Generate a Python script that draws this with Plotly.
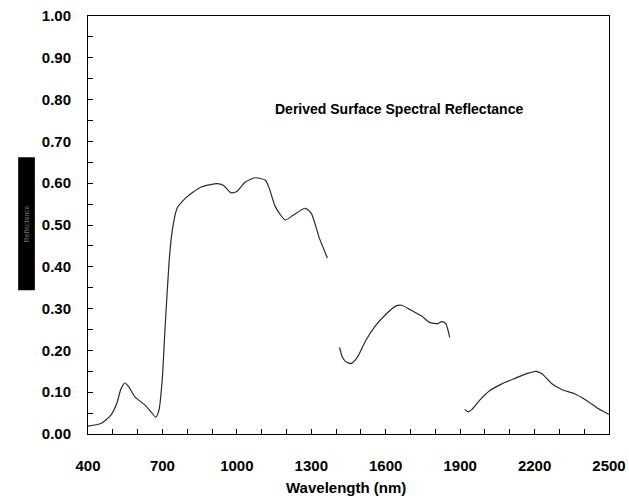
import plotly.graph_objects as go

# Visible / near-infrared segment
wl_vnir = [400, 452, 492, 516, 533, 549, 565, 589, 630, 654, 673, 686, 699, 710, 727, 739,
           759, 791, 824, 856, 921, 945, 977, 1001, 1034, 1074, 1115, 1131, 1155, 1195,
           1228, 1276, 1300, 1333, 1365]
refl_vnir = [0.019, 0.025, 0.045, 0.073, 0.108, 0.122, 0.112, 0.089, 0.069, 0.053, 0.040,
             0.057, 0.128, 0.247, 0.413, 0.484, 0.540, 0.563, 0.579, 0.591, 0.599, 0.595,
             0.577, 0.581, 0.603, 0.613, 0.607, 0.587, 0.544, 0.512, 0.524, 0.540, 0.528,
             0.468, 0.421]

# SWIR-1 segment (between the water absorption bands)
wl_swir1 = [1414, 1425, 1441, 1462, 1486, 1519, 1559, 1600, 1640, 1664, 1697, 1745, 1777,
            1810, 1826, 1842, 1858]
refl_swir1 = [0.207, 0.184, 0.172, 0.169, 0.184, 0.223, 0.259, 0.286, 0.306, 0.308, 0.298,
              0.282, 0.267, 0.264, 0.269, 0.264, 0.231]

# SWIR-2 segment
wl_swir2 = [1918, 1933, 1948, 1979, 2020, 2068, 2117, 2165, 2206, 2230, 2270, 2311, 2359,
            2408, 2456, 2500]
refl_swir2 = [0.059, 0.053, 0.059, 0.081, 0.104, 0.120, 0.132, 0.144, 0.150, 0.144, 0.120,
              0.106, 0.097, 0.081, 0.061, 0.047]

x_ticks = [400, 700, 1000, 1300, 1600, 1900, 2200, 2500]
y_ticks = [0.0, 0.1, 0.2, 0.3, 0.4, 0.5, 0.6, 0.7, 0.8, 0.9, 1.0]

chart_title = "Derived Surface Spectral Reflectance"
x_title = "Wavelength (nm)"
y_title = "Reflectance"

FONT = "Liberation Sans Narrow, Arial Narrow, Liberation Sans, sans-serif"
LINE = dict(color="#2a2a2a", width=1.2, shape="spline", smoothing=0.6)

fig = go.Figure()
for wl, rf in [(wl_vnir, refl_vnir), (wl_swir1, refl_swir1), (wl_swir2, refl_swir2)]:
    fig.add_trace(go.Scatter(x=wl, y=rf, mode="lines", line=LINE,
                             showlegend=False, hoverinfo="skip"))

axis_common = dict(
    showline=True, linecolor="black", linewidth=1, mirror=True,
    showgrid=False, zeroline=False, automargin=False,
    ticks="inside", ticklen=5, tickcolor="black", tickwidth=1,
    tickfont=dict(family=FONT, size=15, color="black", weight="bold"),
)

fig.update_xaxes(
    range=[400, 2500], tickvals=x_ticks, ticktext=[str(v) for v in x_ticks],
    minor=dict(dtick=100, tick0=400, ticks="inside", ticklen=5, tickcolor="black"),
    ticklabelstandoff=18,
    **axis_common,
)
fig.update_yaxes(
    range=[0, 1.0], tickvals=y_ticks, ticktext=[f"{v:.2f}" for v in y_ticks],
    minor=dict(dtick=0.05, tick0=0, ticks="inside", ticklen=5, tickcolor="black"),
    ticklabelstandoff=13,
    **axis_common,
)

# Axis title under the wavelength ticks
fig.add_annotation(xref="paper", yref="paper", x=0.495, y=-0.129,
                   xanchor="center", yanchor="middle",
                   text=x_title, showarrow=False,
                   font=dict(family=FONT, size=15, color="black", weight="bold"))

# Boxed axis label on the left
fig.add_shape(type="rect", xref="paper", yref="paper",
              x0=-0.134, x1=-0.102, y0=0.344, y1=0.662,
              fillcolor="black", line=dict(width=0))
fig.add_annotation(xref="paper", yref="paper", x=-0.118, y=0.503,
                   xanchor="center", yanchor="middle",
                   text=y_title, textangle=-90, showarrow=False,
                   font=dict(family=FONT, size=7, color="#777777"))

fig.add_annotation(xref="paper", yref="paper", x=0.596, y=0.777,
                   xanchor="center", yanchor="middle",
                   text=chart_title, showarrow=False,
                   font=dict(family=FONT, size=14, color="black", weight="bold"))

fig.update_layout(
    width=629, height=500,
    margin=dict(l=88, r=20, t=16, b=66),
    paper_bgcolor="white", plot_bgcolor="white",
)

fig.write_html("out.html")
